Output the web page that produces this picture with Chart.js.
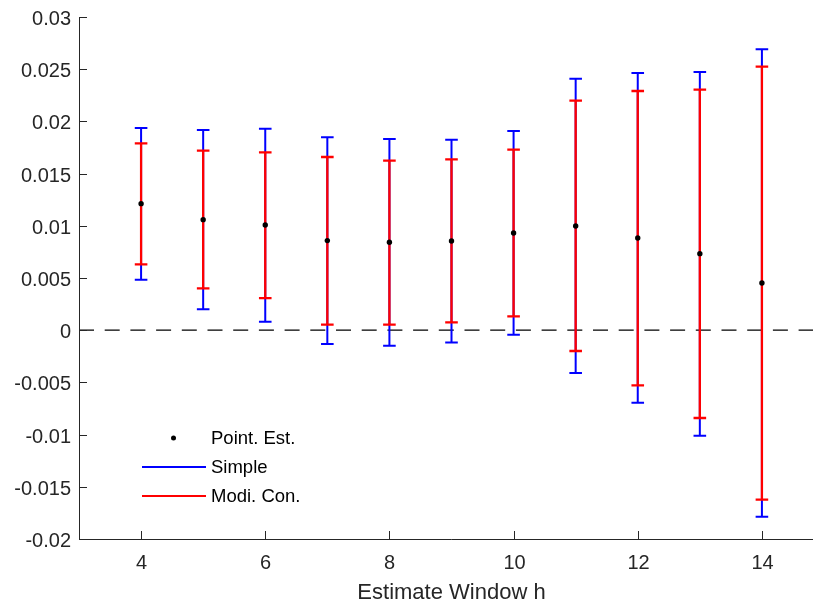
<!DOCTYPE html>
<html>
<head>
<meta charset="utf-8">
<script src="https://cdn.jsdelivr.net/npm/chart.js"></script>
<style>
    html, body { margin: 0; padding: 0; background: #fff; overflow: hidden; }
    canvas { display: block; }
</style>
</head>
<body>
<canvas id="errChart" width="830" height="605"></canvas>
<script>
    "use strict";

    // -----------------------------
    // Data
    // -----------------------------
    const windows = [4, 5, 6, 7, 8, 9, 10, 11, 12, 13, 14];
    const pointEst = [0.01212, 0.01059, 0.01008, 0.00858, 0.00842, 0.00854, 0.00931, 0.00998, 0.00883, 0.00733, 0.00452];
    const simpleLow = [0.00484, 0.00200, 0.00082, -0.00132, -0.00148, -0.00119, -0.00043, -0.00410, -0.00694, -0.01010, -0.01786];
    const simpleHigh = [0.01937, 0.01918, 0.01930, 0.01847, 0.01831, 0.01825, 0.01908, 0.02409, 0.02464, 0.02473, 0.02691];
    const modiLow = [0.00631, 0.00401, 0.00308, 0.00053, 0.00053, 0.00075, 0.00133, -0.00199, -0.00528, -0.00841, -0.01623];
    const modiHigh = [0.01790, 0.01720, 0.01704, 0.01659, 0.01624, 0.01637, 0.01729, 0.02199, 0.02291, 0.02304, 0.02524];

    const xTickLabels = ["4", "6", "8", "10", "12", "14"];
    const yTickLabels = ["-0.02", "-0.015", "-0.01", "-0.005", "0", "0.005", "0.01", "0.015", "0.02", "0.025", "0.03"];
    const legendLabels = ["Point. Est.", "Simple", "Modi. Con."];
    const xTitle = "Estimate Window h";

    const AXIS_COLOR = "#262626";
    const FONT = "'Liberation Sans', Arial, Helvetica, sans-serif";

    // -----------------------------
    // Axes, ticks, zero line (inward ticks, left/bottom only)
    // -----------------------------
    const axesPlugin = {
        id: "matlabAxes",
        beforeDatasetsDraw(chart) {
            const ctx = chart.ctx;
            const x = chart.scales.x;
            const y = chart.scales.y;
            const left = x.getPixelForValue(x.min);
            const right = x.getPixelForValue(x.max);
            const top = y.getPixelForValue(y.max);
            const bottom = y.getPixelForValue(y.min);

            ctx.save();

            // zero reference line
            const y0 = y.getPixelForValue(0);
            ctx.strokeStyle = "#000";
            ctx.lineWidth = 1.2;
            ctx.setLineDash([15, 10.7]);
            ctx.beginPath();
            ctx.moveTo(left, y0);
            ctx.lineTo(right, y0);
            ctx.stroke();
            ctx.setLineDash([]);

            ctx.strokeStyle = AXIS_COLOR;
            ctx.fillStyle = AXIS_COLOR;
            ctx.lineWidth = 1;

            ctx.beginPath();
            ctx.moveTo(left + 0.5, top);
            ctx.lineTo(left + 0.5, bottom + 0.5);
            ctx.lineTo(right, bottom + 0.5);
            ctx.stroke();

            // y ticks
            ctx.font = "20px " + FONT;
            ctx.textAlign = "right";
            ctx.textBaseline = "middle";
            yTickLabels.forEach((lbl) => {
                const py = Math.round(y.getPixelForValue(parseFloat(lbl))) + 0.5;
                ctx.beginPath();
                ctx.moveTo(left, py);
                ctx.lineTo(left + 8, py);
                ctx.stroke();
                ctx.fillText(lbl, left - 8, py + 1.5);
            });

            // x ticks
            ctx.textAlign = "center";
            ctx.textBaseline = "middle";
            xTickLabels.forEach((lbl) => {
                const px = Math.round(x.getPixelForValue(parseFloat(lbl))) + 0.5;
                ctx.beginPath();
                ctx.moveTo(px, bottom);
                ctx.lineTo(px, bottom - 8);
                ctx.stroke();
                ctx.fillText(lbl, px, bottom + 24);
            });

            // x title, centred on the full axis
            ctx.font = "22px " + FONT;
            ctx.textBaseline = "alphabetic";
            ctx.fillText(xTitle, (left + right) / 2, 599);

            ctx.restore();
        }
    };

    // -----------------------------
    // Error bars (Simple under Modi. Con.)
    // -----------------------------
    const errorBarPlugin = {
        id: "errorBars",
        beforeDatasetsDraw(chart) {
            const ctx = chart.ctx;
            const x = chart.scales.x;
            const y = chart.scales.y;
            const cap = 6.3;

            const drawBars = (lows, highs, color, width) => {
                ctx.strokeStyle = color;
                ctx.lineWidth = width;
                windows.forEach((h, i) => {
                    const px = x.getPixelForValue(h);
                    const pLo = y.getPixelForValue(lows[i]);
                    const pHi = y.getPixelForValue(highs[i]);
                    ctx.beginPath();
                    ctx.moveTo(px, pLo);
                    ctx.lineTo(px, pHi);
                    ctx.moveTo(px - cap, pLo);
                    ctx.lineTo(px + cap, pLo);
                    ctx.moveTo(px - cap, pHi);
                    ctx.lineTo(px + cap, pHi);
                    ctx.stroke();
                });
            };

            ctx.save();
            drawBars(simpleLow, simpleHigh, "#0000ff", 2);
            drawBars(modiLow, modiHigh, "#ff0000", 2.3);
            ctx.restore();
        }
    };

    // -----------------------------
    // Legend inside the plot
    // -----------------------------
    const legendPlugin = {
        id: "innerLegend",
        afterDatasetsDraw(chart) {
            const ctx = chart.ctx;
            const rows = [438, 467, 496];
            ctx.save();
            ctx.font = "18.5px " + FONT;
            ctx.fillStyle = "#000";
            ctx.textAlign = "left";
            ctx.textBaseline = "middle";

            ctx.beginPath();
            ctx.arc(173.5, rows[0], 2.5, 0, Math.PI * 2);
            ctx.fill();

            [["#0000ff", rows[1]], ["#ff0000", rows[2]]].forEach(([c, ry]) => {
                ctx.strokeStyle = c;
                ctx.lineWidth = 2;
                ctx.beginPath();
                ctx.moveTo(142, ry);
                ctx.lineTo(206, ry);
                ctx.stroke();
            });

            legendLabels.forEach((lbl, i) => {
                ctx.fillText(lbl, 211, rows[i] + 1);
            });
            ctx.restore();
        }
    };

    new Chart(document.getElementById("errChart"), {
        type: "scatter",
        data: {
            datasets: [
                {
                    label: legendLabels[0],
                    data: windows.map((h, i) => ({ x: h, y: pointEst[i] })),
                    backgroundColor: "#000",
                    borderWidth: 0,
                    pointRadius: 2.7,
                    pointHoverRadius: 2.7
                }
            ]
        },
        options: {
            responsive: false,
            animation: false,
            devicePixelRatio: 1,
            layout: {
                padding: { left: 79, right: 6, top: 17, bottom: 66 }
            },
            plugins: {
                legend: { display: false },
                tooltip: { enabled: false }
            },
            scales: {
                x: { type: "linear", min: 3, max: 15, display: false },
                y: { type: "linear", min: -0.02, max: 0.03, display: false }
            }
        },
        plugins: [axesPlugin, errorBarPlugin, legendPlugin]
    });
</script>
</body>
</html>
